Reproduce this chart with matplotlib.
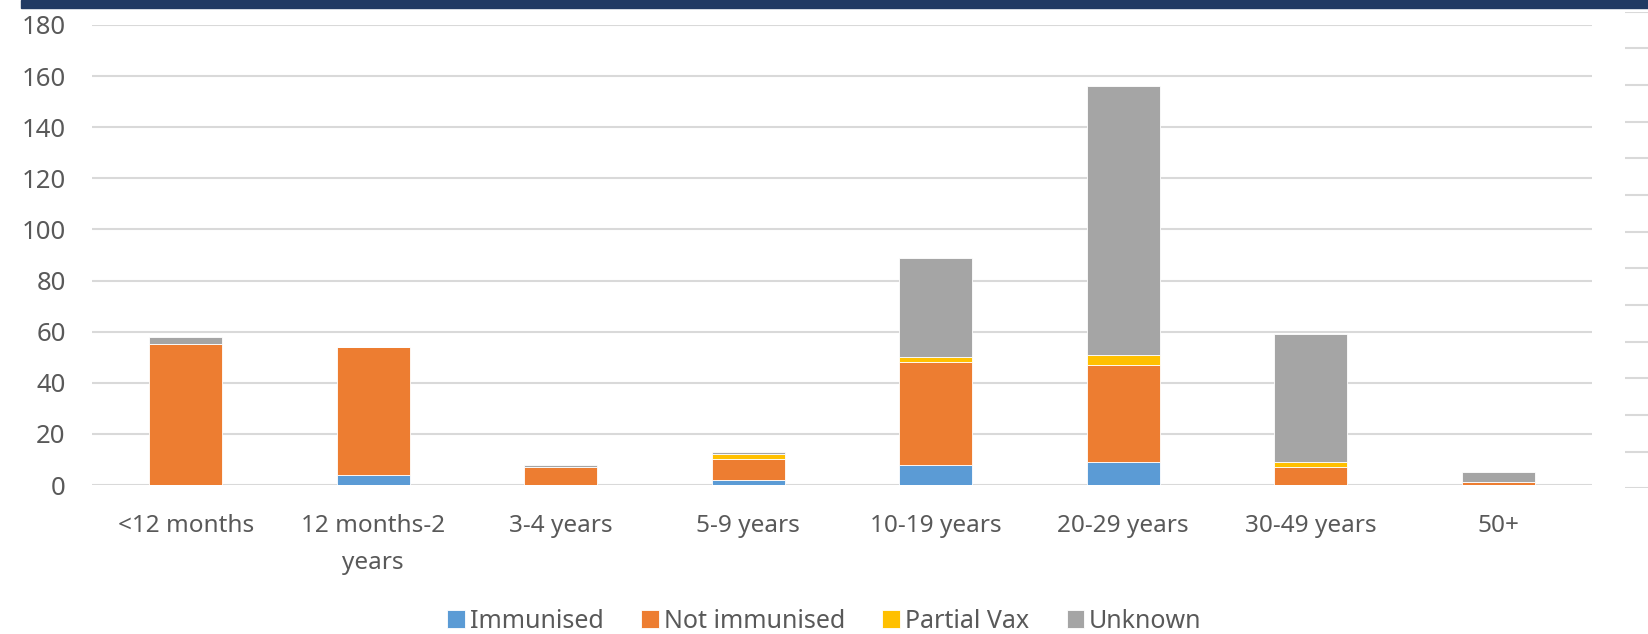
import numpy as np
import matplotlib
matplotlib.use("Agg")
import matplotlib.pyplot as plt
from matplotlib.patches import Rectangle

# age groups and case counts by vaccination status
ages = ["<12 months", "12 months-2\nyears", "3-4 years", "5-9 years",
        "10-19 years", "20-29 years", "30-49 years", "50+"]
immunised = [0, 4, 0, 2, 8, 9, 0, 0]
not_immunised = [55, 50, 7, 8, 40, 38, 7, 1]
partial_vax = [0, 0, 0, 2, 2, 4, 2, 0]
unknown = [3, 0, 1, 1, 39, 105, 50, 4]

series = [("Immunised", immunised, "#5B9BD5"),
          ("Not immunised", not_immunised, "#ED7D31"),
          ("Partial Vax", partial_vax, "#FFC000"),
          ("Unknown", unknown, "#A5A5A5")]

plt.rcParams['font.family'] = ['Noto Sans', 'DejaVu Sans']
txt = "#595959"

fig = plt.figure(figsize=(16.49, 6.34), dpi=100)
ax = fig.add_axes([0.0558, 0.235, 0.9096, 0.7256])

x = np.arange(len(ages))
bottom = np.zeros(len(ages))
for name, vals, col in series:
    ax.bar(x, vals, 0.39, bottom=bottom, color=col, label=name,
           edgecolor="white", linewidth=0.6, zorder=3)
    bottom += np.array(vals)

ax.set_xlim(-0.5, len(ages) - 0.5)
ax.set_ylim(0, 180)
ax.set_yticks(np.arange(0, 181, 20))
ax.set_xticks(x)
ax.set_xticklabels(ages, fontsize=17.5, color=txt, linespacing=1.7)
ax.tick_params(axis="y", labelsize=18.5, labelcolor=txt, length=0, pad=19)
ax.tick_params(axis="x", length=0, pad=21)
ax.grid(axis="y", color="#D9D9D9", linewidth=1.5, zorder=0)
for s in ax.spines.values():
    s.set_visible(False)

leg = fig.legend(loc="center", bbox_to_anchor=(0.5, 0.02), ncol=4,
                 frameon=False, fontsize=18, handlelength=0.7,
                 handleheight=0.7, handletextpad=0.2, columnspacing=1.5)
for t in leg.get_texts():
    t.set_color(txt)

# navy header strip
fig.patches.append(Rectangle((21 / 1649, 1 - 8 / 634), 1, 8 / 634,
                             transform=fig.transFigure, color="#213A63"))

# gridlines of the neighbouring chart peeking in on the right
ax2 = fig.add_axes([1625 / 1649, 1 - 488.3 / 634, 0.02, (488.3 - 11.7) / 634])
ax2.set_ylim(0, 13)
ax2.set_yticks(np.arange(0, 14))
ax2.set_xticks([])
ax2.grid(axis="y", color="#D9D9D9", linewidth=1.5)
ax2.tick_params(length=0, labelleft=False)
for s in ax2.spines.values():
    s.set_visible(False)

fig.savefig("out.png", dpi=100)
